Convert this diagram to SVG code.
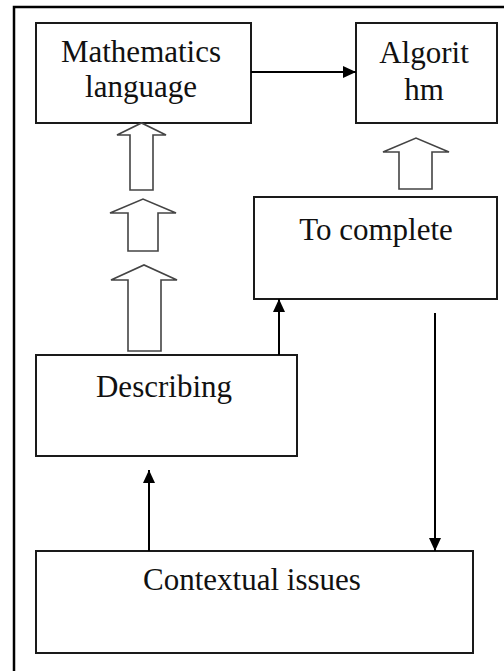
<svg xmlns="http://www.w3.org/2000/svg" width="504" height="671" viewBox="0 0 504 671">
<defs>
<marker id="ah" viewBox="0 0 10 10" refX="10" refY="5" markerWidth="13" markerHeight="12" markerUnits="userSpaceOnUse" orient="auto" preserveAspectRatio="none">
<path d="M0,0 L10,5 L0,10 Z" fill="#000"/>
</marker>
</defs>
<style>
.box{fill:#fff;stroke:#1a1a1a;stroke-width:2}
.blk{fill:#fff;stroke:#444;stroke-width:1.6}
.t{font-family:"Liberation Serif","Times New Roman",serif;font-size:31px;fill:#111;text-anchor:middle}
.c{stroke:#000;stroke-width:2;fill:none}
</style>
<rect x="0" y="0" width="504" height="671" fill="#fff"/>
<path d="M14,671 L14,7 L504,7" fill="none" stroke="#000" stroke-width="2.5"/>
<g id="math">
<rect class="box" x="36" y="23" width="215" height="100"/>
<text class="t" x="141" y="62">Mathematics</text>
<text class="t" x="141" y="97">language</text>
</g>
<g id="algorithm">
<rect class="box" x="356" y="23" width="141" height="100"/>
<text class="t" x="424" y="63">Algorit</text>
<text class="t" x="424" y="100">hm</text>
</g>
<g id="complete">
<rect class="box" x="254" y="197" width="243" height="102"/>
<text class="t" x="376" y="240">To complete</text>
</g>
<g id="describing">
<rect class="box" x="36" y="355" width="261" height="101"/>
<text class="t" x="164" y="397">Describing</text>
</g>
<g id="contextual">
<rect class="box" x="36" y="551" width="437" height="102"/>
<text class="t" x="252" y="590">Contextual issues</text>
</g>
<g id="connectors">
<path class="c" d="M251,72 L356,72" marker-end="url(#ah)"/>
<path class="c" d="M279,355 L279,299" marker-end="url(#ah)"/>
<path class="c" d="M435,313 L435,551" marker-end="url(#ah)"/>
<path class="c" d="M149,551 L149,470" marker-end="url(#ah)"/>
<polygon class="blk" points="130,190 153,190 153,135 166,135 141.5,123 117,135 130,135"/>
<polygon class="blk" points="128,251 158,251 158,213 176,213 143,199 110,213 128,213"/>
<polygon class="blk" points="128,351 161,351 161,280 177,280 144,265 111,280 128,280"/>
<polygon class="blk" points="399,189 432,189 432,152 449,152 416,138 383,152 399,152"/>
</g>
</svg>
